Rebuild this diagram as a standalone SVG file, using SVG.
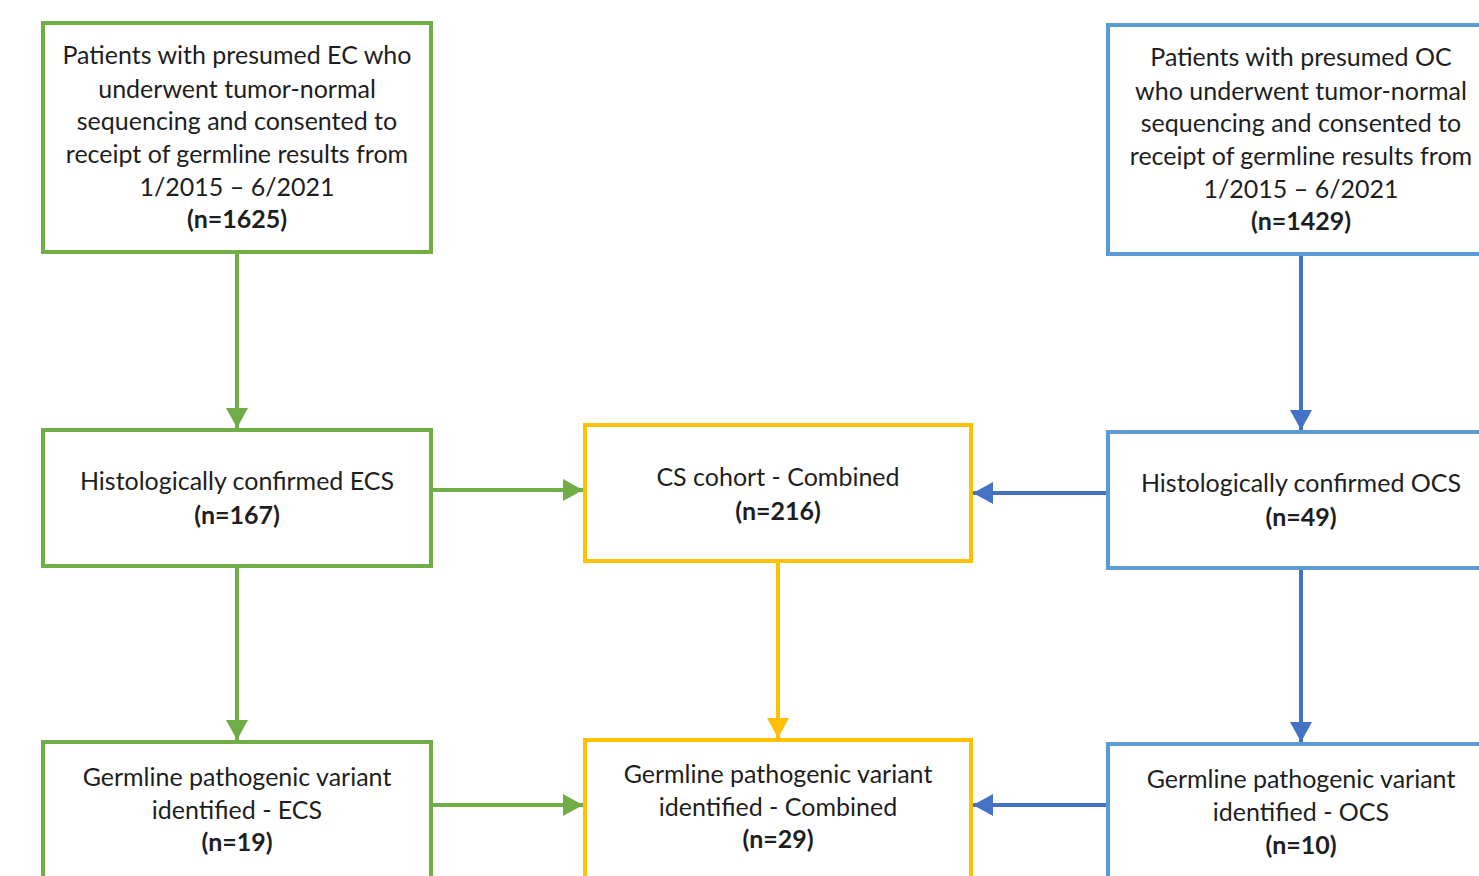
<svg xmlns="http://www.w3.org/2000/svg" width="1479" height="876" viewBox="0 0 1479 876">
<defs>
<style>
.g{fill:#fff;stroke:#70AD47;stroke-width:4}
.b{fill:#fff;stroke:#5B9BD5;stroke-width:4}
.y{fill:#fff;stroke:#FFC000;stroke-width:4}
text{font-family:Lato,"Open Sans","Liberation Sans",sans-serif;font-size:25px;fill:#1e1e1e;text-anchor:middle}
.bold{font-weight:bold}
.cg{stroke:#70AD47;stroke-width:4;fill:none}
.cb{stroke:#4472C4;stroke-width:4;fill:none}
.cy{stroke:#FFC000;stroke-width:4;fill:none}
</style>
<marker id="ag" viewBox="0 0 10 10" refX="10" refY="5" markerWidth="5" markerHeight="5.5" markerUnits="strokeWidth" orient="auto" preserveAspectRatio="none"><path d="M0,0L10,5L0,10z" fill="#70AD47"/></marker>
<marker id="ab" viewBox="0 0 10 10" refX="10" refY="5" markerWidth="5" markerHeight="5.5" markerUnits="strokeWidth" orient="auto" preserveAspectRatio="none"><path d="M0,0L10,5L0,10z" fill="#4472C4"/></marker>
<marker id="ay" viewBox="0 0 10 10" refX="10" refY="5" markerWidth="5" markerHeight="5.5" markerUnits="strokeWidth" orient="auto" preserveAspectRatio="none"><path d="M0,0L10,5L0,10z" fill="#FFC000"/></marker>
</defs>
<rect width="1479" height="876" fill="#fff"/>
<g id="connectors">
<line class="cg" x1="237" y1="254" x2="237" y2="428" marker-end="url(#ag)"/>
<line class="cg" x1="237" y1="568" x2="237" y2="740" marker-end="url(#ag)"/>
<line class="cg" x1="433" y1="490" x2="583" y2="490" marker-end="url(#ag)"/>
<line class="cg" x1="433" y1="805" x2="583" y2="805" marker-end="url(#ag)"/>
<line class="cb" x1="1301" y1="256" x2="1301" y2="430" marker-end="url(#ab)"/>
<line class="cb" x1="1301" y1="570" x2="1301" y2="742" marker-end="url(#ab)"/>
<line class="cb" x1="1106" y1="493" x2="973" y2="493" marker-end="url(#ab)"/>
<line class="cb" x1="1106" y1="805" x2="973" y2="805" marker-end="url(#ab)"/>
<line class="cy" x1="778" y1="563" x2="778" y2="738" marker-end="url(#ay)"/>
</g>
<g id="ec-start">
<rect class="g" x="43" y="23" width="388" height="229"/>
<text x="237" y="64">Patients with presumed EC who</text>
<text x="237" y="98">underwent tumor-normal</text>
<text x="237" y="130">sequencing and consented to</text>
<text x="237" y="163">receipt of germline results from</text>
<text x="237" y="196">1/2015 – 6/2021</text>
<text x="237" y="228" class="bold">(n=1625)</text>
</g>
<g id="oc-start">
<rect class="b" x="1108" y="25" width="390" height="229"/>
<text x="1301" y="66">Patients with presumed OC</text>
<text x="1301" y="100">who underwent tumor-normal</text>
<text x="1301" y="132">sequencing and consented to</text>
<text x="1301" y="165">receipt of germline results from</text>
<text x="1301" y="198">1/2015 – 6/2021</text>
<text x="1301" y="230" class="bold">(n=1429)</text>
</g>
<g id="ecs">
<rect class="g" x="43" y="430" width="388" height="136"/>
<text x="237" y="490">Histologically confirmed ECS</text>
<text x="237" y="524" class="bold">(n=167)</text>
</g>
<g id="cs-combined">
<rect class="y" x="585" y="425" width="386" height="136"/>
<text x="778" y="486">CS cohort - Combined</text>
<text x="778" y="520" class="bold">(n=216)</text>
</g>
<g id="ocs">
<rect class="b" x="1108" y="432" width="390" height="136"/>
<text x="1301" y="492">Histologically confirmed OCS</text>
<text x="1301" y="526" class="bold">(n=49)</text>
</g>
<g id="gpv-ecs">
<rect class="g" x="43" y="742" width="388" height="150"/>
<text x="237" y="786">Germline pathogenic variant</text>
<text x="237" y="819">identified - ECS</text>
<text x="237" y="851" class="bold">(n=19)</text>
</g>
<g id="gpv-combined">
<rect class="y" x="585" y="740" width="386" height="150"/>
<text x="778" y="783">Germline pathogenic variant</text>
<text x="778" y="816">identified - Combined</text>
<text x="778" y="848" class="bold">(n=29)</text>
</g>
<g id="gpv-ocs">
<rect class="b" x="1108" y="744" width="390" height="150"/>
<text x="1301" y="788">Germline pathogenic variant</text>
<text x="1301" y="821">identified - OCS</text>
<text x="1301" y="854" class="bold">(n=10)</text>
</g>
</svg>
